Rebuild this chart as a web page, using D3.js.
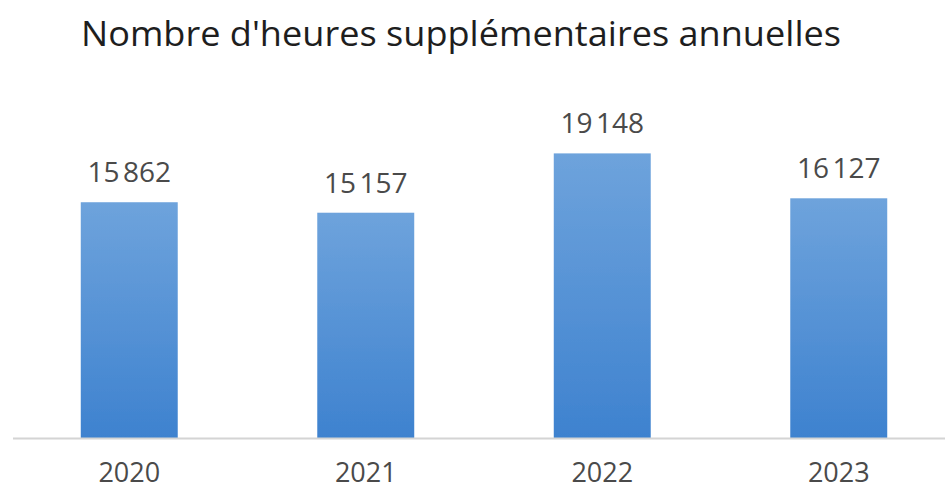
<!DOCTYPE html>
<html>
<head>
<meta charset="utf-8">
<script src="https://cdn.jsdelivr.net/npm/d3@7"></script>
<style>
  html, body { margin: 0; padding: 0; background: #fff; }
  svg { display: block; }
</style>
</head>
<body>
<svg id="chart" width="945" height="489"></svg>
<script>
// Annual overtime hours
const title = "Nombre d'heures supplémentaires annuelles";
const years = ["2020", "2021", "2022", "2023"];
const hours = [15862, 15157, 19148, 16127];

const W = 945, H = 489;
const svg = d3.select("#chart");
const font = "'Open Sans', 'Noto Sans', sans-serif";

// French number format: thin space as thousands separator
const fr = d3.formatLocale({ decimal: ",", thousands: "\u202f", grouping: [3], currency: ["", " €"] });
const fmt = fr.format(",d");

const x = d3.scaleBand()
  .domain(years)
  .range([11, 957])
  .paddingInner(0.59)
  .paddingOuter(0.295);

const y = d3.scaleLinear()
  .domain([0, 22000])
  .range([438, 111]);

// Bar gradient: lighter at the top, deeper blue at the base
const defs = svg.append("defs");
const grad = defs.append("linearGradient")
  .attr("id", "barFill")
  .attr("x1", 0).attr("y1", 0).attr("x2", 0).attr("y2", 1);
grad.append("stop").attr("offset", "0%").attr("stop-color", "#6ea3dc");
grad.append("stop").attr("offset", "100%").attr("stop-color", "#3e82cf");

const soft = defs.append("filter").attr("id", "soft")
  .attr("x", "-5%").attr("y", "-5%").attr("width", "110%").attr("height", "110%");
soft.append("feGaussianBlur").attr("stdDeviation", 0.6);

// Title, slightly condensed to span its full line
svg.append("text")
  .attr("x", 461)
  .attr("y", 46)
  .attr("text-anchor", "middle")
  .attr("font-family", font)
  .attr("font-size", 35)
  .attr("fill", "#1e1e1e")
  .attr("textLength", 760)
  .attr("lengthAdjust", "spacingAndGlyphs")
  .text(title);

// Bars
svg.append("g")
  .selectAll("rect")
  .data(hours)
  .join("rect")
  .attr("x", (d, i) => x(years[i]))
  .attr("y", d => y(d))
  .attr("width", x.bandwidth())
  .attr("height", d => y(0) - y(d))
  .attr("fill", "url(#barFill)")
  .attr("filter", "url(#soft)");

// Baseline and year labels
const axis = svg.append("g")
  .attr("transform", `translate(0,${y(0)})`)
  .call(d3.axisBottom(x).tickSize(0));
axis.select(".domain")
  .attr("d", `M13,0.5H945`)
  .attr("stroke", "#d4d4d4")
  .attr("stroke-width", 2);
axis.selectAll(".tick text")
  .attr("font-family", font)
  .attr("font-size", 27)
  .attr("fill", "#4a4a4a")
  .attr("dy", 0)
  .attr("y", 44);

// Value labels
svg.append("g")
  .selectAll("text")
  .data(hours)
  .join("text")
  .attr("x", (d, i) => x(years[i]) + x.bandwidth() / 2)
  .attr("y", d => y(d) - 20)
  .attr("text-anchor", "middle")
  .attr("font-family", font)
  .attr("font-size", 28)
  .attr("fill", "#4a4a4a")
  .text(d => fmt(d));
</script>
</body>
</html>
